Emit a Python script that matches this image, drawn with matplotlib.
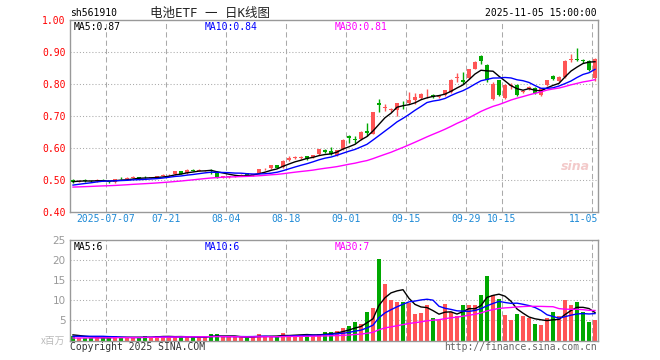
import matplotlib
matplotlib.use('Agg')
import matplotlib.pyplot as plt
import numpy as np

W, H = 660, 360

# ---------------- data ----------------
opens = [0.499,0.495,0.500,0.497,0.496,0.501,0.496,0.493,0.506,0.504,
 0.507,0.509,0.507,0.506,0.509,0.513,0.515,0.518,0.527,0.521,
 0.530,0.529,0.530,0.531,0.526,0.509,0.510,0.511,0.514,0.521,
 0.516,0.522,0.536,0.536,0.546,0.540,0.564,0.569,0.569,0.575,
 0.573,0.580,0.594,0.590,0.578,0.596,0.636,0.629,0.627,0.654,
 0.644,0.740,0.725,0.718,0.719,0.739,0.741,0.750,0.755,0.768,
 0.766,0.759,0.766,0.775,0.819,0.814,0.818,0.848,0.887,0.859,
 0.754,0.811,0.757,0.795,0.797,0.775,0.784,0.788,0.767,0.797,
 0.825,0.808,0.821,0.876,0.877,0.875,0.872,0.820]

highs = [0.503,0.501,0.502,0.499,0.503,0.502,0.498,0.503,0.509,0.508,
 0.511,0.510,0.511,0.510,0.514,0.519,0.519,0.528,0.529,0.534,
 0.533,0.533,0.532,0.533,0.527,0.513,0.513,0.516,0.518,0.522,
 0.520,0.534,0.538,0.547,0.548,0.562,0.575,0.574,0.574,0.576,
 0.579,0.598,0.598,0.604,0.595,0.627,0.641,0.637,0.653,0.677,
 0.713,0.752,0.738,0.724,0.741,0.748,0.776,0.771,0.772,0.784,
 0.768,0.766,0.782,0.815,0.833,0.836,0.847,0.871,0.892,0.862,
 0.805,0.813,0.799,0.803,0.799,0.781,0.793,0.792,0.789,0.814,
 0.829,0.825,0.874,0.894,0.911,0.878,0.874,0.882]

lows = [0.490,0.494,0.494,0.493,0.495,0.496,0.490,0.491,0.502,0.503,
 0.505,0.504,0.505,0.505,0.508,0.512,0.514,0.517,0.518,0.520,
 0.527,0.528,0.529,0.518,0.507,0.505,0.506,0.509,0.512,0.515,
 0.514,0.521,0.530,0.535,0.536,0.538,0.560,0.566,0.565,0.564,
 0.570,0.578,0.585,0.578,0.576,0.595,0.616,0.616,0.625,0.636,
 0.643,0.714,0.716,0.712,0.700,0.722,0.738,0.736,0.752,0.756,
 0.755,0.756,0.764,0.772,0.807,0.801,0.816,0.846,0.862,0.806,
 0.750,0.764,0.752,0.783,0.762,0.771,0.781,0.768,0.763,0.795,
 0.812,0.806,0.819,0.870,0.872,0.866,0.842,0.810]

closes = [0.495,0.498,0.497,0.496,0.501,0.497,0.493,0.502,0.505,0.506,
 0.509,0.505,0.506,0.508,0.512,0.516,0.517,0.527,0.520,0.532,
 0.529,0.531,0.531,0.528,0.509,0.511,0.511,0.514,0.517,0.516,
 0.519,0.533,0.537,0.546,0.538,0.560,0.569,0.571,0.571,0.566,
 0.577,0.596,0.588,0.581,0.594,0.625,0.631,0.626,0.651,0.646,
 0.712,0.735,0.729,0.721,0.740,0.736,0.751,0.758,0.769,0.770,
 0.758,0.764,0.781,0.813,0.822,0.806,0.846,0.869,0.872,0.812,
 0.801,0.767,0.796,0.798,0.765,0.777,0.791,0.772,0.787,0.812,
 0.816,0.823,0.872,0.879,0.874,0.872,0.845,0.878]

volumes = [1.0,0.7,0.7,0.7,0.7,0.7,0.7,1.2,0.7,0.7,
 0.7,0.7,1.2,0.7,1.2,1.2,0.8,0.9,0.8,1.0,
 0.8,0.8,0.8,1.7,1.5,0.8,0.8,0.8,0.8,0.8,
 1.0,1.5,1.0,1.0,1.0,1.8,1.4,1.4,1.4,1.4,
 1.3,1.5,2.1,2.1,2.3,3.1,3.5,4.5,4.0,7.0,
 8.0,20.2,14.0,10.0,9.5,9.5,9.4,6.5,6.8,8.75,
 5.7,5.0,9.0,7.2,6.0,8.75,8.75,8.75,11.25,16.1,
 11.25,10.25,6.25,5.0,6.5,6.0,5.5,4.0,3.75,5.5,
 7.0,6.0,10.0,8.75,9.5,7.0,4.5,5.0]

# sessions before the visible window (only used for the moving averages)
prior_closes = [0.478,0.476,0.474,0.473,0.475,0.477,0.476,0.474,0.472,0.471,
 0.473,0.475,0.476,0.474,0.475,0.477,0.476,0.474,0.475,0.473,
 0.472,0.473,0.474,0.473,0.475,0.490,0.494,0.497,0.498]
prior_volumes = [0.40,0.45,0.35,0.40,0.42,0.38,0.40,0.45,0.40,0.35,
 0.40,0.42,0.40,0.38,0.45,0.40,0.40,0.42,0.38,0.40,
 0.60,0.70,0.80,0.70,0.70,1.50,1.60,1.40,1.50]

tick_index = [6, 16, 26, 36, 46, 56, 66, 72, 87]
tick_labels = ["2025-07-07", "07-21", "08-04", "08-18", "09-01",
               "09-15", "09-29", "10-15", "11-05"]

price_ticks = [0.40, 0.50, 0.60, 0.70, 0.80, 0.90, 1.00]
vol_ticks = [5, 10, 15, 20, 25]

code = "sh561910"
title = "电池ETF 一 日K线图"
stamp = "2025-11-05 15:00:00"
ma_price_text = ["MA5:0.87", "MA10:0.84", "MA30:0.81"]
ma_vol_text = ["MA5:6", "MA10:6", "MA30:7"]

# ---------------- styles ----------------
RED = '#ff5555'
GREEN = '#00a800'
MA_COLORS = ['#000000', '#0000ff', '#ff00ff']
GRID = '#aaaaaa'
FRAME = '#999999'
MONO = 'DejaVu Sans Mono'

o = np.array(opens); h = np.array(highs); l = np.array(lows); c = np.array(closes)
v = np.array(volumes)
n = len(c)
x = np.arange(n)
up = c >= o
cols = np.where(up, RED, GREEN)

def ma(prior, vals, k):
    full = np.concatenate([np.array(prior), vals])
    out = np.convolve(full, np.ones(k) / k, mode='valid')
    return out[-len(vals):]

fig = plt.figure(figsize=(W / 100, H / 100), dpi=100)
fig.patch.set_facecolor('white')

def axes_px(x0, y0, x1, y1):
    return fig.add_axes([x0 / W, 1 - y1 / H, (x1 - x0) / W, (y1 - y0) / H])

def ftext(px, py, s, **kw):
    fig.text(px / W, 1 - py / H, s, **kw)

ax = axes_px(70, 20, 598, 212)
axv = axes_px(70, 240, 598, 340.5)

for a in (ax, axv):
    a.set_xlim(-0.5, n - 0.5)
    for sp in a.spines.values():
        sp.set_color(FRAME)
        sp.set_linewidth(1.0)
    a.set_xticks([])
    a.tick_params(axis='y', length=0, pad=3)
    for t in tick_index:
        a.axvline(t - 0.5, color=GRID, lw=0.75, ls=(0, (5, 3)), zorder=0)

# ---------------- price panel ----------------
ax.set_ylim(0.40, 1.00)
for p in price_ticks[1:-1]:
    ax.axhline(p, color=GRID, lw=0.75, ls=(0, (1, 2)), zorder=0)
ax.set_yticks(price_ticks)
ax.set_yticklabels([f"{p:.2f}" for p in price_ticks], color='#ff0000',
                   fontsize=7, family=MONO)

ax.vlines(x, l, h, colors=cols, lw=1.0, zorder=2)
body_bot = np.minimum(o, c)
body_h = np.maximum(np.abs(c - o), 0.0012)
ax.bar(x, body_h, bottom=body_bot, width=0.8, color=cols, lw=0, zorder=3)

for k, col in zip([5, 10, 30], MA_COLORS):
    ax.plot(x, ma(prior_closes, c, k), color=col, lw=1.0, zorder=4)

# x labels
for t, lab in zip(tick_index, tick_labels):
    if t == n - 1:
        ax.text(n - 0.5, -0.036, lab, transform=ax.get_xaxis_transform(),
                ha='right', va='center', fontsize=7, family=MONO, color='#1e8ad6')
    else:
        ax.text(t - 0.5, -0.036, lab, transform=ax.get_xaxis_transform(),
                ha='center', va='center', fontsize=7, family=MONO, color='#1e8ad6')

# ---------------- volume panel ----------------
axv.set_ylim(0, 25)
for q in vol_ticks[:-1]:
    axv.axhline(q, color=GRID, lw=0.75, ls=(0, (1, 2)), zorder=0)
axv.set_yticks(vol_ticks)
axv.set_yticklabels([str(q) for q in vol_ticks], color='#999999', fontsize=7.5,
                    family='DejaVu Sans')
axv.bar(x, v, width=0.8, color=cols, lw=0, zorder=2)
for k, col in zip([5, 10, 30], MA_COLORS):
    axv.plot(x, ma(prior_volumes, v, k), color=col, lw=1.0, zorder=4)

# ---------------- texts ----------------
ftext(70, 13.5, code, fontsize=7, family=MONO, color='#000000', ha='left', va='center')
ftext(150, 13.5, title, fontsize=9, family=[MONO, 'Noto Sans CJK SC'], color='#222222',
      ha='left', va='center')
ftext(597, 13.5, stamp, fontsize=7, family=MONO, color='#000000', ha='right', va='center')

for px_, s, col in zip([74, 205, 335], ma_price_text, MA_COLORS):
    ftext(px_, 27, s, fontsize=7, family=MONO, color=col, ha='left', va='center')
for px_, s, col in zip([74, 205, 335], ma_vol_text, MA_COLORS):
    ftext(px_, 246.5, s, fontsize=7, family=MONO, color=col, ha='left', va='center')

ftext(65, 340.5, "x百万", fontsize=7, family=['Noto Sans CJK SC', 'DejaVu Sans'],
      color='#bbbbbb', ha='right', va='center')
ftext(70, 346.5, "Copyright 2025 SINA.COM", fontsize=7, family=MONO, color='#333333',
      ha='left', va='center')
ftext(597, 346.5, "http://finance.sina.com.cn", fontsize=7, family=MONO, color='#666666',
      ha='right', va='center')

# faint sina watermark
ftext(575, 166, "sina", fontsize=9, fontstyle='italic', fontweight='bold',
      color='#f3caca', ha='center', va='center', family='DejaVu Sans')

fig.savefig('out.png', dpi=100)
